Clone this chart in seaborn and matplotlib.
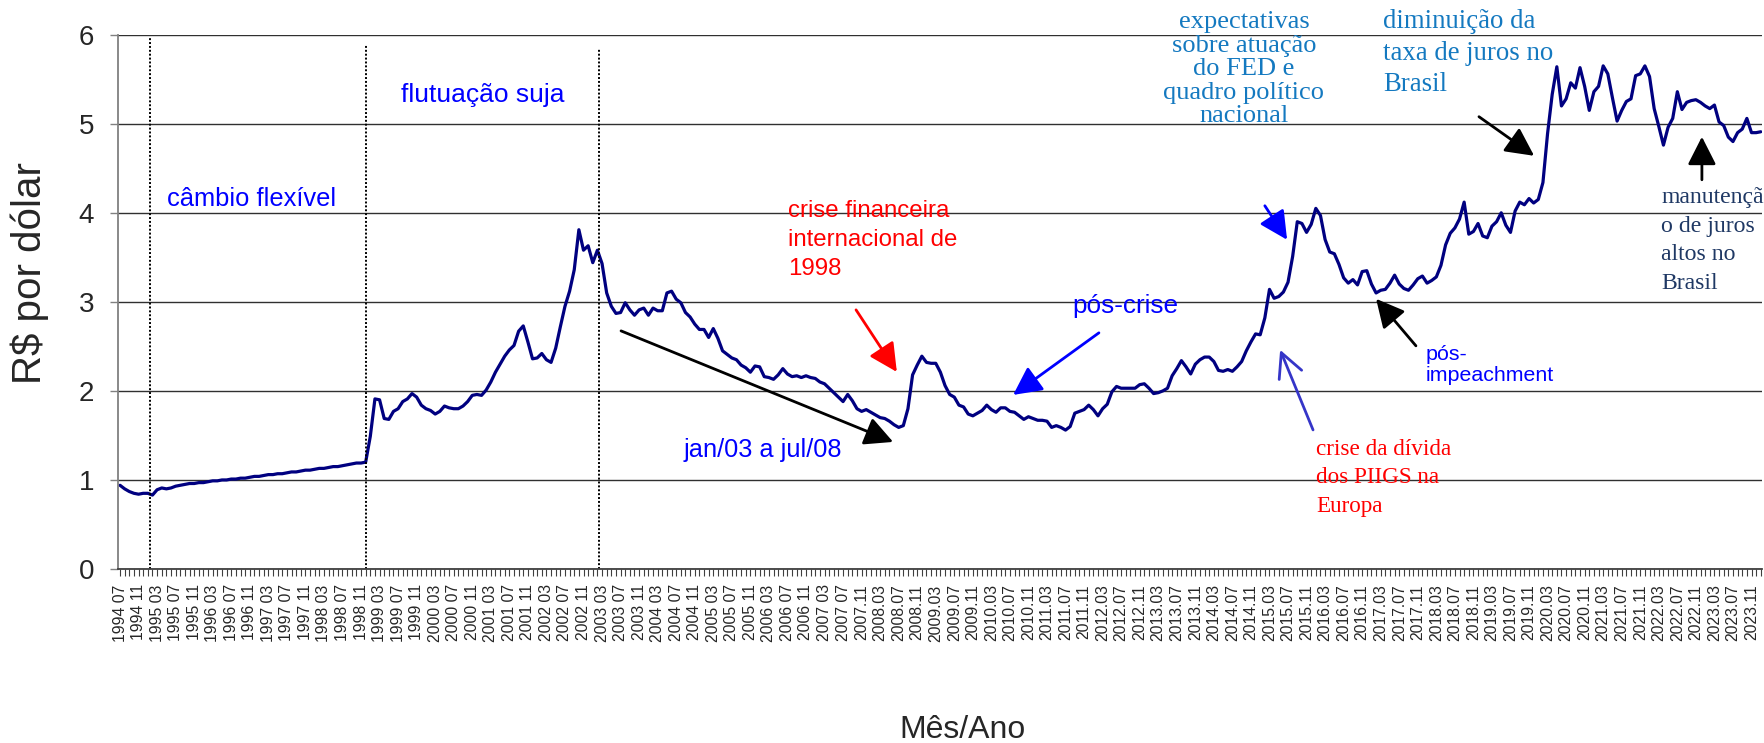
import matplotlib
matplotlib.use('Agg')
import matplotlib.pyplot as plt
import seaborn as sns
import pandas as pd

# cotacao media mensal R$/US$, jul/1994 a jan/2024
usd_1994 = [0.94, 0.90, 0.87, 0.85, 0.84, 0.85]
usd_1995 = [0.85, 0.83, 0.89, 0.91, 0.90, 0.91, 0.93, 0.94, 0.95, 0.96, 0.96, 0.97]
usd_1996 = [0.97, 0.98, 0.99, 0.99, 1.00, 1.00, 1.01, 1.01, 1.02, 1.02, 1.03, 1.04]
usd_1997 = [1.04, 1.05, 1.06, 1.06, 1.07, 1.07, 1.08, 1.09, 1.09, 1.10, 1.11, 1.11]
usd_1998 = [1.12, 1.13, 1.13, 1.14, 1.15, 1.15, 1.16, 1.17, 1.18, 1.19, 1.19, 1.20]
usd_1999 = [1.49, 1.91, 1.90, 1.69, 1.68, 1.77, 1.80, 1.88, 1.91, 1.97, 1.93, 1.84]
usd_2000 = [1.80, 1.78, 1.74, 1.77, 1.83, 1.81, 1.80, 1.80, 1.83, 1.88, 1.95, 1.96]
usd_2001 = [1.95, 2.01, 2.10, 2.21, 2.30, 2.39, 2.46, 2.51, 2.67, 2.73, 2.55, 2.36]
usd_2002 = [2.37, 2.42, 2.35, 2.32, 2.48, 2.72, 2.95, 3.12, 3.36, 3.81, 3.58, 3.63]
usd_2003 = [3.44, 3.58, 3.43, 3.10, 2.95, 2.87, 2.88, 2.99, 2.91, 2.85, 2.91, 2.93]
usd_2004 = [2.85, 2.93, 2.90, 2.90, 3.10, 3.12, 3.03, 2.99, 2.88, 2.83, 2.75, 2.69]
usd_2005 = [2.69, 2.60, 2.70, 2.59, 2.45, 2.41, 2.37, 2.35, 2.29, 2.26, 2.21, 2.28]
usd_2006 = [2.27, 2.16, 2.15, 2.13, 2.18, 2.25, 2.19, 2.16, 2.17, 2.15, 2.17, 2.15]
usd_2007 = [2.14, 2.10, 2.08, 2.03, 1.98, 1.93, 1.88, 1.96, 1.89, 1.80, 1.77, 1.79]
usd_2008 = [1.76, 1.73, 1.70, 1.69, 1.66, 1.62, 1.59, 1.61, 1.80, 2.18, 2.29, 2.39]
usd_2009 = [2.32, 2.31, 2.31, 2.21, 2.06, 1.96, 1.93, 1.84, 1.82, 1.74, 1.72, 1.75]
usd_2010 = [1.78, 1.84, 1.79, 1.76, 1.81, 1.81, 1.77, 1.76, 1.72, 1.68, 1.71, 1.69]
usd_2011 = [1.67, 1.67, 1.66, 1.59, 1.61, 1.59, 1.56, 1.60, 1.75, 1.77, 1.79, 1.84]
usd_2012 = [1.79, 1.72, 1.80, 1.85, 1.99, 2.05, 2.03, 2.03, 2.03, 2.03, 2.07, 2.08]
usd_2013 = [2.03, 1.97, 1.98, 2.00, 2.03, 2.17, 2.25, 2.34, 2.27, 2.19, 2.30, 2.35]
usd_2014 = [2.38, 2.38, 2.33, 2.23, 2.22, 2.24, 2.22, 2.27, 2.33, 2.45, 2.55, 2.64]
usd_2015 = [2.63, 2.82, 3.14, 3.04, 3.06, 3.11, 3.22, 3.51, 3.90, 3.88, 3.78, 3.87]
usd_2016 = [4.05, 3.97, 3.70, 3.56, 3.54, 3.42, 3.27, 3.21, 3.25, 3.19, 3.34, 3.35]
usd_2017 = [3.20, 3.10, 3.13, 3.14, 3.21, 3.30, 3.20, 3.15, 3.13, 3.19, 3.26, 3.29]
usd_2018 = [3.21, 3.24, 3.28, 3.41, 3.64, 3.77, 3.83, 3.93, 4.12, 3.76, 3.79, 3.88]
usd_2019 = [3.74, 3.72, 3.85, 3.90, 4.00, 3.86, 3.78, 4.02, 4.12, 4.09, 4.16, 4.11]
usd_2020 = [4.15, 4.34, 4.89, 5.33, 5.64, 5.20, 5.28, 5.46, 5.40, 5.63, 5.42, 5.15]
usd_2021 = [5.36, 5.42, 5.65, 5.56, 5.29, 5.03, 5.15, 5.25, 5.28, 5.54, 5.56, 5.65]
usd_2022 = [5.53, 5.17, 4.97, 4.76, 4.96, 5.06, 5.36, 5.16, 5.24, 5.26, 5.27, 5.24]
usd_2023 = [5.20, 5.17, 5.21, 5.02, 4.98, 4.85, 4.80, 4.90, 4.94, 5.06, 4.90, 4.90]
usd_2024 = [4.91]

anos = [usd_1994, usd_1995, usd_1996, usd_1997, usd_1998, usd_1999, usd_2000,
        usd_2001, usd_2002, usd_2003, usd_2004, usd_2005, usd_2006, usd_2007,
        usd_2008, usd_2009, usd_2010, usd_2011, usd_2012, usd_2013, usd_2014,
        usd_2015, usd_2016, usd_2017, usd_2018, usd_2019, usd_2020, usd_2021,
        usd_2022, usd_2023, usd_2024]
cotacao = [v for ano in anos for v in ano]

meses = pd.period_range('1994-07', '2024-01', freq='M')
df = pd.DataFrame({'mes': range(len(meses)), 'cotacao': cotacao})

# rotulos do eixo x: a cada 4 meses, com "." a partir de 2007.11
rotulos = []
for p in meses[::4]:
    sep = '.' if p >= pd.Period('2007-11', 'M') else ' '
    rotulos.append(f'{p.year}{sep}{p.month:02d}')

# mudancas de regime cambial (linhas pontilhadas)
quebras = [6.5, 53.1, 103.4]
topo_quebras = [5.97, 5.88, 5.85]

sns.set_theme(style='white')
plt.rcParams['font.family'] = ['Liberation Sans', 'DejaVu Sans']
SERIF = ['Liberation Serif', 'DejaVu Serif']

fig = plt.figure(figsize=(17.65, 7.43), dpi=100)
ax = fig.add_axes([117.7 / 1765, 1 - 569 / 743, 1644 / 1765, 534.3 / 743])

sns.lineplot(data=df, x='mes', y='cotacao', color='#000080', lw=2.3, ax=ax)

ax.set_xlim(-0.5, 354.2)
ax.set_ylim(0, 6)
ax.set_yticks(range(7))
ax.yaxis.grid(True, color='#303030', lw=1.0)
ax.set_axisbelow(True)
for s in ['top', 'right']:
    ax.spines[s].set_visible(False)
ax.spines['left'].set_color('#808080')
ax.spines['left'].set_linewidth(1.3)
ax.spines['bottom'].set_color('#404040')
ax.spines['bottom'].set_linewidth(1.3)

ax.set_xticks(range(0, len(meses), 4))
ax.set_xticklabels(rotulos, rotation=90, fontsize=11.3)
ax.set_xticks(range(len(meses)), minor=True)
ax.tick_params(axis='x', which='both', direction='out', length=5, width=0.8,
               color='#404040', pad=6, bottom=True)
ax.tick_params(axis='y', direction='out', length=6, width=1.0, color='#808080',
               labelsize=20, pad=11, left=True)
ax.set_xlabel('')
ax.set_ylabel('')

ax.vlines(quebras, 0, topo_quebras, colors='black', linestyles=(0, (1, 1)), lw=1.4)

fig.text(30 / 1765, 1 - 273 / 743, 'R$ por dólar', rotation=90, ha='center',
         va='center', fontsize=29)
fig.text(963 / 1765, 1 - 730 / 743, 'Mês/Ano', ha='center', va='center', fontsize=23)


def bloco(linhas, x, y, passo_px, ha='left', **kw):
    for k, txt in enumerate(linhas):
        ax.annotate(txt, xy=(x, y), xytext=(0, -k * passo_px * 0.72),
                    textcoords='offset points', ha=ha, va='baseline',
                    annotation_clip=False, **kw)


azul = '#0000FF'
azul_aco = '#1479C0'
bloco(['câmbio flexível'], 10.1, 4.08, 0, color=azul, fontsize=18.4)
bloco(['flutuação suja'], 60.6, 5.24, 0, color=azul, fontsize=19)
bloco(['crise financeira', 'internacional de', '1998'], 144.1, 3.955, 29,
      color='#FF0000', fontsize=17.3)
bloco(['jan/03 a jul/08'], 121.5, 1.258, 0, color=azul, fontsize=18.3)
bloco(['pós-crise'], 205.4, 2.876, 0, color=azul, fontsize=18.8)
bloco(['pós-', 'impeachment'], 281.6, 2.348, 21, color=azul, fontsize=15.4)
bloco(['expectativas', 'sobre atuação', 'do FED e', 'quadro político', 'nacional'],
      242.5, 6.07, 23.4, ha='center', color=azul_aco, fontsize=19, family=SERIF)
bloco(['diminuição da', 'taxa de juros no', 'Brasil'], 272.5, 6.07, 31.5,
      color=azul_aco, fontsize=19.3, family=SERIF)
bloco(['crise da dívida', 'dos PIIGS na', 'Europa'], 258.0, 1.281, 28.5,
      color='#FF0000', fontsize=16.7, family=SERIF)
bloco(['manutençã', 'o de juros', 'altos no', 'Brasil'], 332.5, 4.11, 28.5,
      color='#1F3864', fontsize=17.1, family=SERIF)

setas = [
    ((108.1, 2.674), (166.8, 1.427), 'black', '-|>'),
    ((158.8, 2.91), (167.6, 2.213), '#FF0000', '-|>'),
    ((211.2, 2.652), (192.7, 1.955), azul, '-|>'),
    ((247.0, 4.079), (251.8, 3.697), azul, '-|>'),
    ((257.4, 1.562), (250.3, 2.461), '#3535C8', '->'),
    ((279.6, 2.506), (271.0, 3.034), 'black', '-|>'),
    ((293.2, 5.079), (305.1, 4.64), 'black', '-|>'),
    ((341.3, 4.371), (341.3, 4.854), 'black', '-|>'),
]
for cauda, ponta, cor, estilo in setas:
    ax.annotate('', xy=ponta, xytext=cauda,
                arrowprops=dict(arrowstyle=estilo + ',head_length=0.75,head_width=0.38',
                                color=cor, lw=2.0, mutation_scale=23,
                                shrinkA=0, shrinkB=0))

fig.savefig('out.png', dpi=100)
